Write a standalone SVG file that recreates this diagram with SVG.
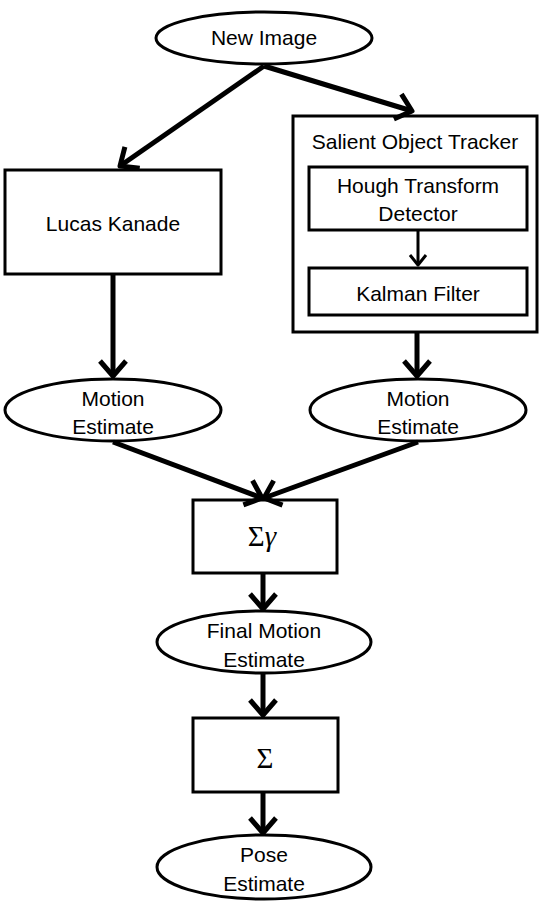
<svg xmlns="http://www.w3.org/2000/svg" width="547" height="907" viewBox="0 0 547 907">
<style>
.shape{fill:#fff;stroke:#000;stroke-width:3}
.lbl{font-family:"Liberation Sans",Arial,sans-serif;font-size:21px;fill:#000;text-anchor:middle;dominant-baseline:central}
.math{font-family:"Liberation Serif","Times New Roman",serif;font-size:29px;fill:#000;text-anchor:middle;dominant-baseline:central}
.conn{stroke:#000;stroke-width:5;fill:none}
.thin{stroke:#000;stroke-width:3;fill:none}
</style>
<defs>
<marker id="ah" markerUnits="userSpaceOnUse" orient="auto" overflow="visible" refX="0" refY="0" markerWidth="30" markerHeight="30">
<path d="M-15,-13 L0,0 L-15,13" fill="none" stroke="#000" stroke-width="5" stroke-linejoin="round" stroke-linecap="butt"/>
</marker>
<marker id="ahs" markerUnits="userSpaceOnUse" orient="auto" overflow="visible" refX="0" refY="0" markerWidth="20" markerHeight="20">
<path d="M-10,-8 L0,0 L-10,8" fill="none" stroke="#000" stroke-width="3" stroke-linejoin="round"/>
</marker>
</defs>
<g id="new-image">
<ellipse class="shape" cx="264" cy="38" rx="108" ry="26"/>
<text class="lbl" x="264" y="37">New Image</text>
</g>
<g id="lucas-kanade">
<rect class="shape" x="5" y="170" width="216" height="104"/>
<text class="lbl" x="113" y="223">Lucas Kanade</text>
</g>
<g id="salient-object-tracker">
<rect class="shape" x="293" y="116" width="244" height="216"/>
<text class="lbl" x="415" y="141">Salient Object Tracker</text>
</g>
<g id="hough-transform">
<rect class="shape" x="309" y="167" width="218" height="63"/>
<text class="lbl" x="418" y="185">Hough Transform</text>
<text class="lbl" x="418" y="213">Detector</text>
</g>
<g id="kalman-filter">
<rect class="shape" x="309" y="268" width="218" height="47"/>
<text class="lbl" x="418" y="293">Kalman Filter</text>
</g>
<g id="motion-estimate-left">
<ellipse class="shape" cx="113" cy="410" rx="108" ry="31"/>
<text class="lbl" x="113" y="398">Motion</text>
<text class="lbl" x="113" y="426">Estimate</text>
</g>
<g id="motion-estimate-right">
<ellipse class="shape" cx="418" cy="410" rx="108" ry="31"/>
<text class="lbl" x="418" y="398">Motion</text>
<text class="lbl" x="418" y="426">Estimate</text>
</g>
<g id="weighted-sum">
<rect class="shape" x="193" y="500" width="144" height="73"/>
<text class="math" x="262" y="536">Σ<tspan font-style="italic">γ</tspan></text>
</g>
<g id="final-motion-estimate">
<ellipse class="shape" cx="264" cy="642" rx="107" ry="31"/>
<text class="lbl" x="264" y="630">Final Motion</text>
<text class="lbl" x="264" y="659">Estimate</text>
</g>
<g id="sum">
<rect class="shape" x="193" y="718" width="145" height="74"/>
<text class="math" x="265" y="758">Σ</text>
</g>
<g id="pose-estimate">
<ellipse class="shape" cx="264" cy="867" rx="107" ry="32"/>
<text class="lbl" x="264" y="854">Pose</text>
<text class="lbl" x="264" y="883">Estimate</text>
</g>
<g id="connectors">
<line class="conn" x1="264" y1="66" x2="120" y2="166" marker-end="url(#ah)"/>
<line class="conn" x1="264" y1="66" x2="412" y2="111" marker-end="url(#ah)"/>
<line class="conn" x1="113" y1="275" x2="113" y2="376" marker-end="url(#ah)"/>
<line class="conn" x1="417" y1="333" x2="417" y2="376" marker-end="url(#ah)"/>
<line class="thin" x1="418" y1="231" x2="418" y2="265" marker-end="url(#ahs)"/>
<line class="conn" x1="113" y1="442" x2="262" y2="498" marker-end="url(#ah)"/>
<line class="conn" x1="418" y1="442" x2="264" y2="498" marker-end="url(#ah)"/>
<line class="conn" x1="263" y1="574" x2="263" y2="609" marker-end="url(#ah)"/>
<line class="conn" x1="263" y1="674" x2="263" y2="715" marker-end="url(#ah)"/>
<line class="conn" x1="263" y1="793" x2="263" y2="833" marker-end="url(#ah)"/>
</g>
</svg>
